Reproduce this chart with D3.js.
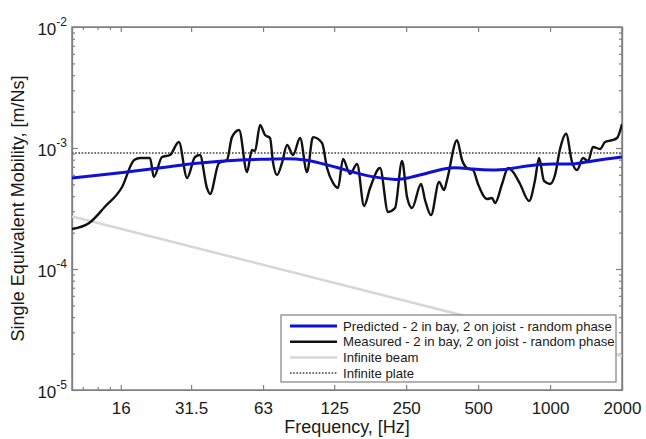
<!DOCTYPE html>
<html lang="en">
	<head>
		<meta charset="utf-8">
		<title>Single equivalent mobility</title>
		<script type="text/javascript" src="https://cdn.jsdelivr.net/npm/d3@7"></script>
		<style type="text/css">
			body { margin: 0; background: white; }
			text { font-family: Arial, "Liberation Sans", sans-serif; fill: #1a1a1a; }
			.axis path, .axis line { stroke: #808080; stroke-width: 1.2; }
			.axis text { font-size: 17px; fill: #1a1a1a; }
		</style>
	</head>
	<body>
		<script type="text/javascript">

			//Ticks
			var freqTicks = [16, 31.5, 63, 125, 250, 500, 1000, 2000];
			var freqTickLabels = ["16", "31.5", "63", "125", "250", "500", "1000", "2000"];
			var freqMinorTicks = [11.1, 12.8, 14.4];
			var mobilityTicks = [1e-5, 1e-4, 1e-3, 1e-2];
			var mobilityTickExps = ["-5", "-4", "-3", "-2"];

			//Predicted - 2 in bay, 2 on joist
			var predictedFreq = [10, 13.1, 18.3, 25, 34.3, 50.5, 69.3, 94.4, 139, 180, 225, 254, 308, 382, 475, 617, 801, 1027, 1245, 1511, 2000];
			var predictedValue = [5.65e-4, 5.98e-4, 6.46e-4, 6.97e-4, 7.52e-4, 7.96e-4, 8.11e-4, 7.96e-4, 6.6e-4, 5.8e-4, 5.5e-4, 5.65e-4, 6.21e-4, 6.84e-4, 6.7e-4, 6.6e-4, 7.1e-4, 7.38e-4, 7.38e-4, 7.81e-4, 8.42e-4];

			//Measured - 2 in bay, 2 on joist
			var measuredFreq = [10, 11.8, 13.7, 16.2, 18.2, 19.3, 21.2, 22.0, 23.8, 25.7, 28.0, 30.3, 32.7, 34.3, 36.7, 37.8, 41.2, 44.5, 46.7, 50.0,
				54.0, 56.6, 58.3, 61.2, 64.2, 67.4, 69.3, 72.1, 75.6, 79.4, 84.1, 90.0, 96.2, 101.9, 111.2, 116.7, 123.6, 129.7, 136.1, 145.6,
				155.8, 166.7, 176.6, 194.4, 210, 224.6, 240.4, 252.2, 264.6, 288.6, 299.9, 317.8, 343.3, 360.2, 370.7, 408.2, 428.3, 449.5, 476.2, 499.6,
				545, 571.9, 588.7, 629.9, 667.4, 700.3, 749.1, 816.9, 865.5, 899.5, 943.8, 1000, 1049, 1101, 1167, 1236, 1297, 1374, 1442, 1513,
				1619, 1699, 1817, 1907, 2000];
			var measuredValue = [2.14e-4, 2.40e-4, 3.25e-4, 4.76e-4, 7.96e-4, 8.26e-4, 8.26e-4, 5.76e-4, 8.42e-4, 8.75e-4, 1.12e-3, 5.65e-4, 8.42e-4, 8.75e-4, 4.67e-4, 4.17e-4, 7.52e-4, 7.96e-4, 1.23e-3, 1.41e-3,
				6.33e-4, 9.63e-4, 9.45e-4, 1.55e-3, 1.28e-3, 1.21e-3, 7.66e-4, 5.98e-4, 7.52e-4, 1.06e-3, 8.75e-4, 1.21e-3, 6.33e-4, 1.23e-3, 1.10e-3, 6.83e-4, 5.14e-4, 4.67e-4, 8.11e-4, 6.10e-4,
				7.38e-4, 3.32e-4, 4.67e-4, 6.83e-4, 2.96e-4, 3.19e-4, 7.81e-4, 3.94e-4, 3.19e-4, 5.04e-4, 3.72e-4, 2.79e-4, 5.24e-4, 4.50e-4, 5.44e-4, 1.16e-3, 7.96e-4, 6.83e-4, 6.58e-4, 5.04e-4,
				3.79e-4, 3.86e-4, 3.51e-4, 5.04e-4, 6.83e-4, 6.33e-4, 5.04e-4, 3.65e-4, 5.44e-4, 8.26e-4, 5.34e-4, 5.04e-4, 5.98e-4, 9.81e-4, 1.31e-3, 7.66e-4, 6.58e-4, 8.26e-4, 7.81e-4, 1.02e-3,
				9.81e-4, 1.12e-3, 1.16e-3, 1.21e-3, 1.58e-3];

			//Infinite beam and infinite plate
			var beamFreq = [10, 2000];
			var beamValue = [2.72e-4, 1.92e-5];
			var plateFreq = [10, 2000];
			var plateValue = [9.1e-4, 9.1e-4];

			var legendLabels = [
				"Predicted - 2 in bay, 2 on joist - random phase",
				"Measured - 2 in bay, 2 on joist - random phase",
				"Infinite beam",
				"Infinite plate"
			];

			//Width and height
			var W = 646;
			var H = 439;
			var margin = { top: 27, right: 24, bottom: 49, left: 72 };
			var w = W - margin.left - margin.right;
			var h = H - margin.top - margin.bottom;

			var xScale = d3.scaleLog()
							.domain([10, 2000])
							.range([0, w]);

			var yScale = d3.scaleLog()
							.domain([1e-5, 1e-2])
							.range([h, 0]);

			//Minor y ticks 2..9 per decade
			var yMinor = [];
			mobilityTicks.slice(0, 3).forEach(function(d) {
				for (var k = 2; k <= 9; k++) yMinor.push(d * k);
			});

			//Create SVG element
			var svg = d3.select("body")
						.append("svg")
						.attr("width", W)
						.attr("height", H);

			var g = svg.append("g")
						.attr("transform", "translate(" + margin.left + "," + margin.top + ")");

			g.append("clipPath")
				.attr("id", "clip")
				.append("rect")
				.attr("width", w)
				.attr("height", h);

			//Axes with inward ticks
			g.append("g")
				.attr("class", "axis")
				.attr("transform", "translate(0," + h + ")")
				.call(d3.axisBottom(xScale)
					.tickValues(freqTicks)
					.tickSizeInner(-5)
					.tickSizeOuter(0)
					.tickPadding(12)
					.tickFormat(function(d, i) { return freqTickLabels[i]; }));

			g.append("g")
				.attr("class", "axis")
				.attr("transform", "translate(0," + h + ")")
				.call(d3.axisBottom(xScale).tickValues(freqMinorTicks).tickSizeInner(-3).tickSizeOuter(0).tickFormat(""));

			g.append("g")
				.attr("class", "axis")
				.call(d3.axisTop(xScale).tickValues(freqTicks).tickSizeInner(-5).tickSizeOuter(0).tickFormat(""));

			g.append("g")
				.attr("class", "axis")
				.call(d3.axisTop(xScale).tickValues(freqMinorTicks).tickSizeInner(-3).tickSizeOuter(0).tickFormat(""));

			var yAxis = g.append("g")
				.attr("class", "axis")
				.call(d3.axisLeft(yScale)
					.tickValues(mobilityTicks)
					.tickSizeInner(-6)
					.tickSizeOuter(0)
					.tickPadding(5)
					.tickFormat(""));

			yAxis.selectAll(".tick text")
				.attr("dy", "0.42em")
				.each(function(d, i) {
					var t = d3.select(this);
					t.text("10");
					t.append("tspan")
						.attr("dy", -9)
						.style("font-size", "12px")
						.text(mobilityTickExps[i]);
				});

			g.append("g")
				.attr("class", "axis")
				.call(d3.axisLeft(yScale).tickValues(yMinor).tickSizeInner(-3).tickSizeOuter(0).tickFormat(""));

			g.append("g")
				.attr("class", "axis")
				.attr("transform", "translate(" + w + ",0)")
				.call(d3.axisRight(yScale).tickValues(mobilityTicks).tickSizeInner(-6).tickSizeOuter(0).tickFormat(""));

			g.append("g")
				.attr("class", "axis")
				.attr("transform", "translate(" + w + ",0)")
				.call(d3.axisRight(yScale).tickValues(yMinor).tickSizeInner(-3).tickSizeOuter(0).tickFormat(""));

			//Plot box
			g.append("rect")
				.attr("width", w)
				.attr("height", h)
				.attr("fill", "none")
				.attr("stroke", "#808080")
				.attr("stroke-width", 1.5);

			//Lines
			function makeLine(curve) {
				return d3.line()
					.x(function(d) { return xScale(d[0]); })
					.y(function(d) { return yScale(d[1]); })
					.curve(curve);
			}

			var series = [
				{ f: beamFreq, v: beamValue, color: "#d6d6d6", width: 2.5, dash: null, curve: d3.curveLinear },
				{ f: plateFreq, v: plateValue, color: "#6e6e6e", width: 2, dash: "1.6,1.6", curve: d3.curveLinear },
				{ f: measuredFreq, v: measuredValue, color: "#111111", width: 2.4, dash: null, curve: d3.curveMonotoneX },
				{ f: predictedFreq, v: predictedValue, color: "#1010d4", width: 3, dash: null, curve: d3.curveNatural }
			];

			var lines = g.append("g").attr("clip-path", "url(#clip)");

			series.forEach(function(s) {
				lines.append("path")
					.datum(d3.zip(s.f, s.v))
					.attr("d", makeLine(s.curve))
					.attr("fill", "none")
					.attr("stroke", s.color)
					.attr("stroke-width", s.width)
					.attr("stroke-dasharray", s.dash)
					.attr("stroke-linejoin", "round");
			});

			//Legend
			var legendStyle = [series[3], series[2], series[0], series[1]];
			var legend = g.append("g")
				.attr("transform", "translate(" + (281 - margin.left) + "," + (315 - margin.top) + ")");

			legend.append("rect")
				.attr("width", 335)
				.attr("height", 67)
				.attr("fill", "white")
				.attr("stroke", "#808080")
				.attr("stroke-width", 1.2);

			var rows = legend.selectAll("g.row")
				.data(legendLabels)
				.enter()
				.append("g")
				.attr("class", "row")
				.attr("transform", function(d, i) { return "translate(0," + (11 + i * 15.7) + ")"; });

			rows.append("line")
				.attr("x1", 9)
				.attr("x2", 56)
				.attr("stroke", function(d, i) { return legendStyle[i].color; })
				.attr("stroke-width", function(d, i) { return legendStyle[i].width; })
				.attr("stroke-dasharray", function(d, i) { return legendStyle[i].dash; });

			rows.append("text")
				.attr("x", 62)
				.attr("dy", "0.36em")
				.style("font-size", "13.2px")
				.text(function(d) { return d; });

			//Axis labels
			svg.append("text")
				.attr("x", margin.left + w / 2)
				.attr("y", 433)
				.attr("text-anchor", "middle")
				.style("font-size", "18px")
				.text("Frequency, [Hz]");

			svg.append("text")
				.attr("transform", "translate(24," + (margin.top + h / 2) + ") rotate(-90)")
				.attr("text-anchor", "middle")
				.style("font-size", "18px")
				.text("Single Equivalent Mobility, [m/Ns]");

		</script>
	</body>
</html>
